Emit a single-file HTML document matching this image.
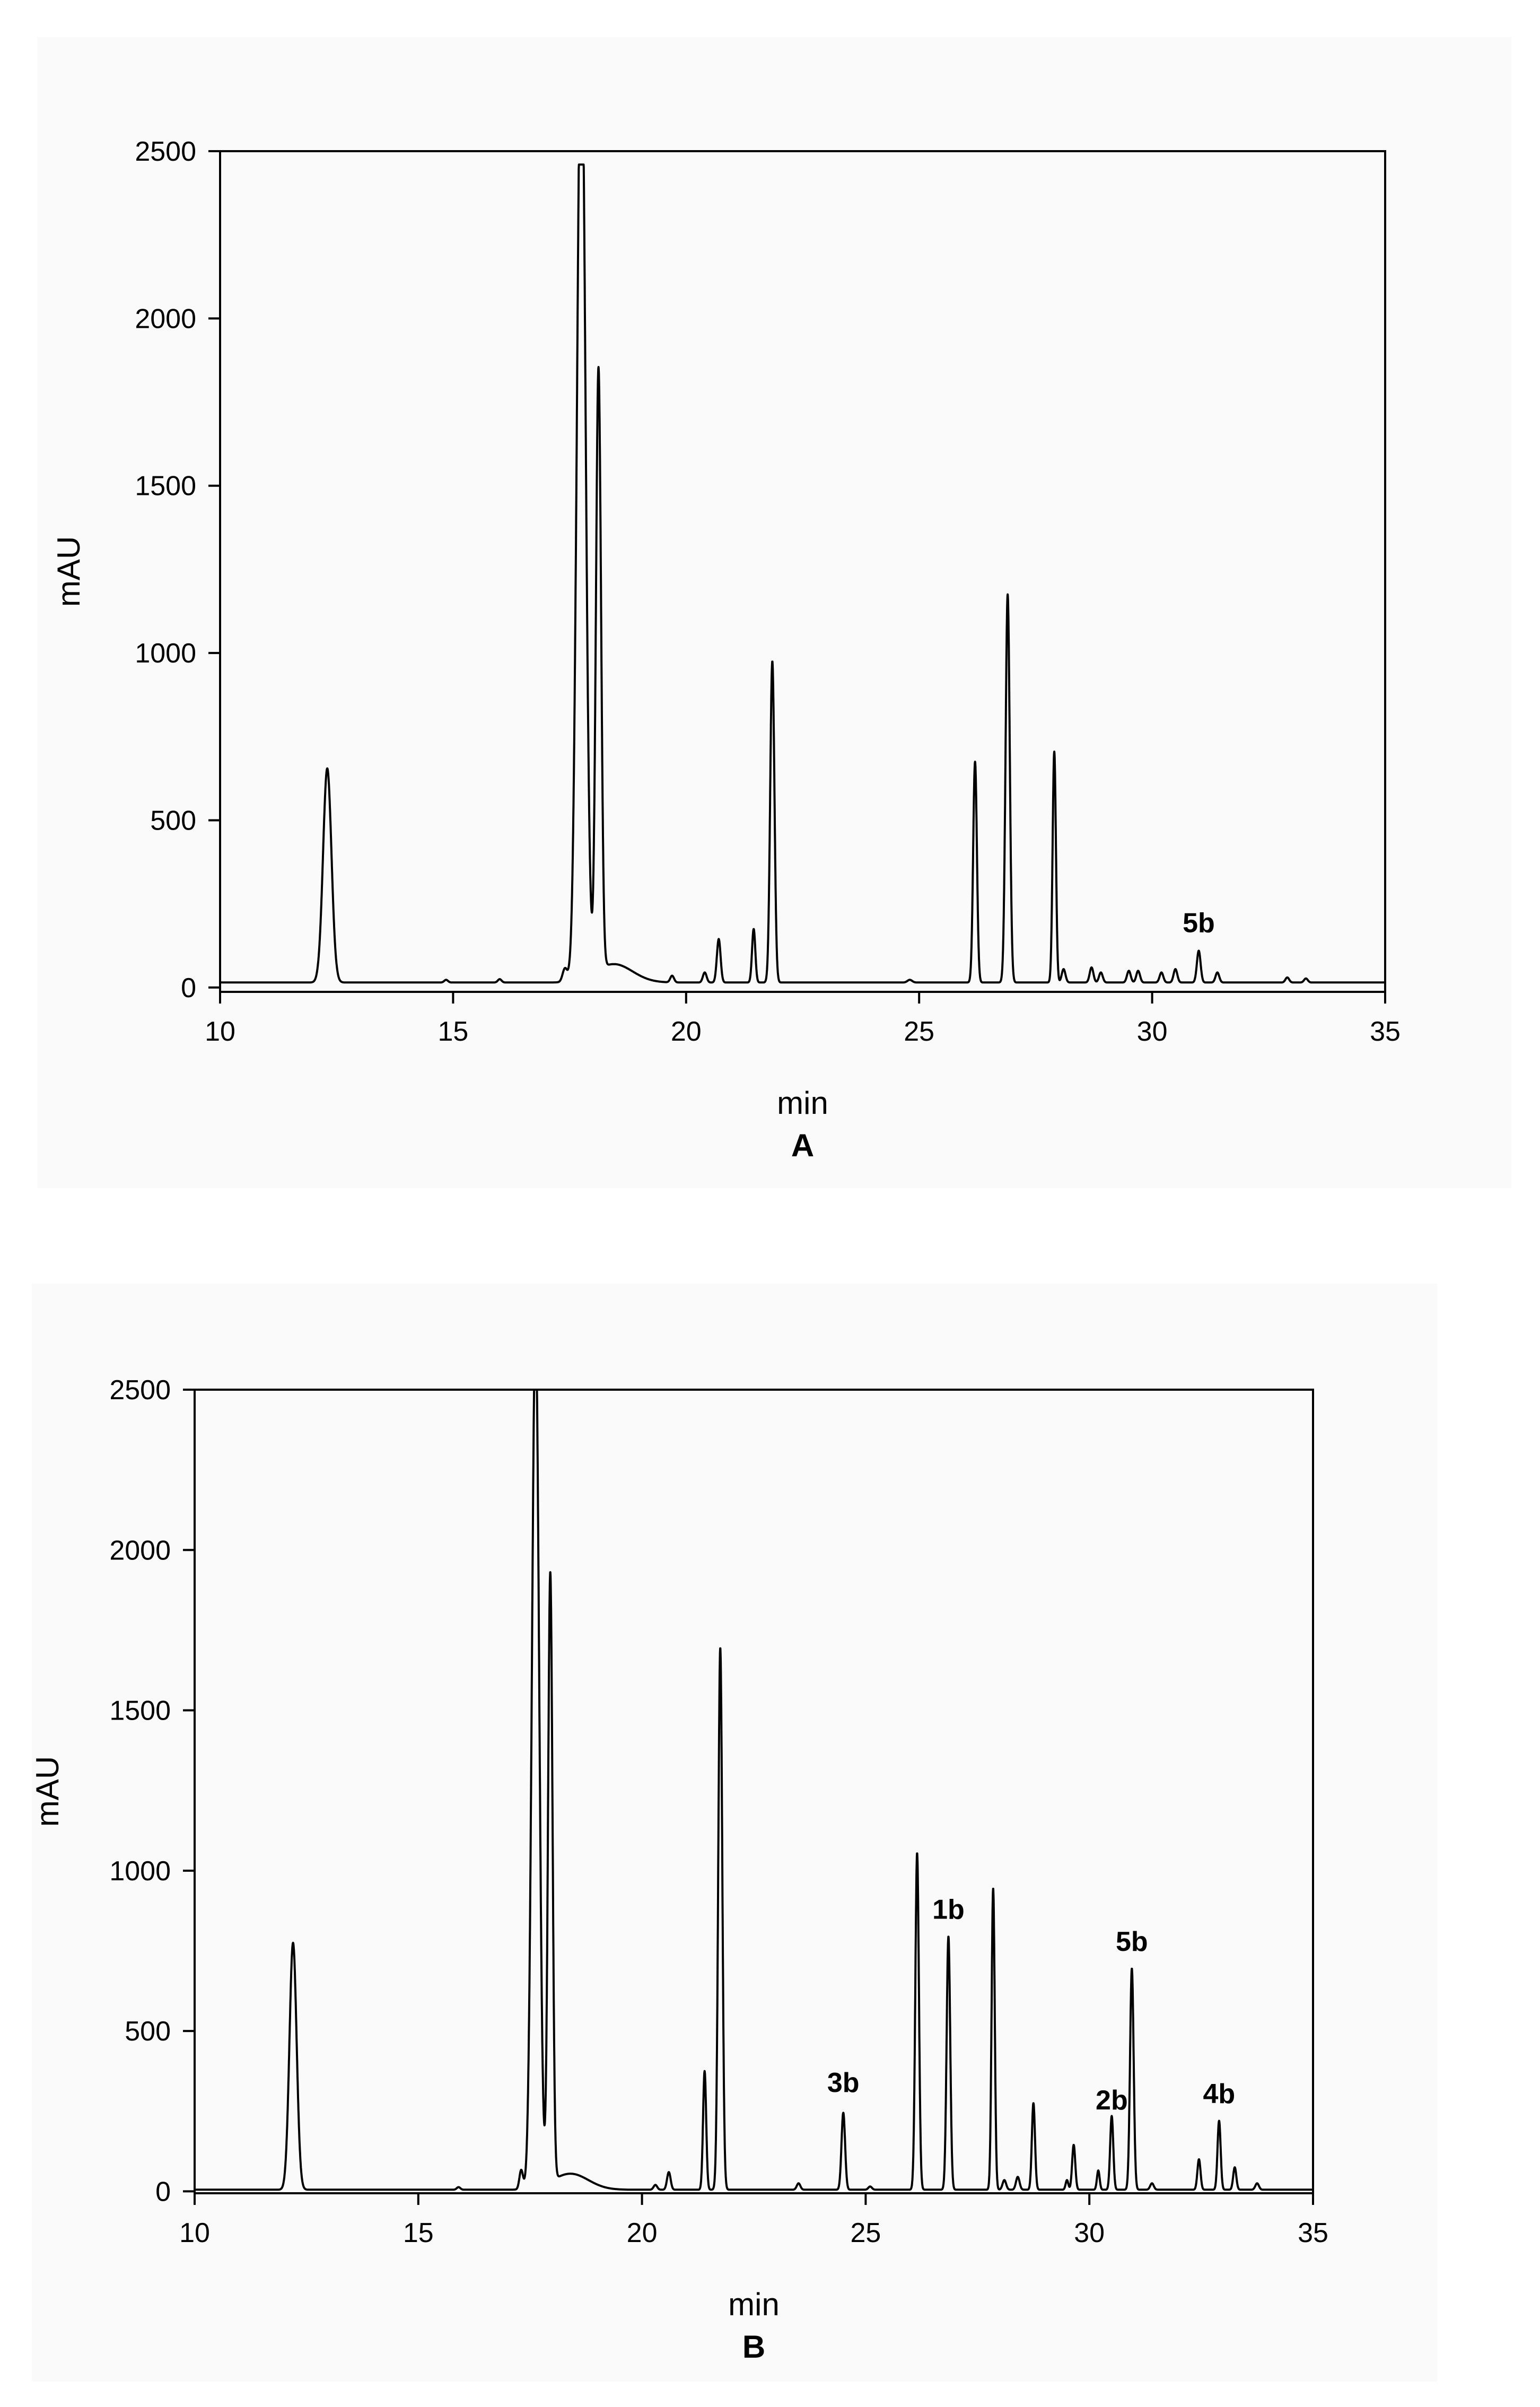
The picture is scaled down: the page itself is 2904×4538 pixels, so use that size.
<!DOCTYPE html>
<html><head><meta charset="utf-8"><style>
html,body{margin:0;padding:0;background:#fff;}
svg{display:block;font-family:"Liberation Sans",Arial,sans-serif;}
</style></head><body>
<svg id="chart" width="2904" height="4538" viewBox="0 0 2904 4538" xmlns="http://www.w3.org/2000/svg">
<rect x="0" y="0" width="2904" height="4538" fill="#fff"/>
<rect x="70" y="70" width="2780" height="2170" fill="#fafafa"/>
<rect x="60" y="2420" width="2650" height="2070" fill="#fafafa"/>
<g id="pa"></g>
<g id="pb"></g>
</svg>
<script>
// Panel A data
const ticksX = [10, 15, 20, 25, 30, 35];
const ticksY = [0, 500, 1000, 1500, 2000, 2500];
const peakTimesA = [12.3, 14.85, 16.0, 17.4, 17.75, 18.12, 18.45, 19.7, 20.4, 20.7, 21.45, 21.85, 24.8, 26.2, 26.9, 27.9, 28.1, 28.7, 28.9, 29.5, 29.7, 30.2, 30.5, 31.0, 31.4, 32.9, 33.3];
const peakHeightsA = [640, 8, 10, 40, 2900, 1800, 55, 20, 30, 130, 160, 960, 8, 660, 1160, 690, 40, 45, 30, 35, 35, 30, 40, 95, 30, 15, 12];
const peakWidthsA = [0.09, 0.04, 0.04, 0.05, 0.09, 0.055, 0.4, 0.04, 0.04, 0.04, 0.035, 0.045, 0.05, 0.04, 0.045, 0.035, 0.04, 0.04, 0.04, 0.04, 0.04, 0.04, 0.04, 0.04, 0.04, 0.04, 0.04];
const baselineA = 15;
const clipA = 2460;
const labelsA = ["5b"];
const labelTimesA = [31.0];
const labelValuesA = [165];
// Panel B data
const peakTimesB = [12.2, 15.9, 17.3, 17.62, 17.95, 18.4, 20.3, 20.6, 21.4, 21.75, 23.5, 24.5, 25.1, 26.15, 26.85, 27.85, 28.1, 28.4, 28.75, 29.5, 29.65, 30.2, 30.5, 30.95, 31.4, 32.45, 32.9, 33.25, 33.75];
const peakHeightsB = [770, 8, 60, 2700, 1900, 50, 15, 55, 370, 1690, 20, 240, 10, 1050, 790, 940, 30, 40, 270, 30, 140, 60, 230, 690, 20, 95, 215, 70, 20];
const peakWidthsB = [0.08, 0.04, 0.04, 0.08, 0.05, 0.4, 0.04, 0.04, 0.035, 0.045, 0.04, 0.04, 0.04, 0.04, 0.04, 0.035, 0.04, 0.04, 0.035, 0.03, 0.035, 0.03, 0.035, 0.04, 0.04, 0.035, 0.035, 0.035, 0.04];
const baselineB = 5;
const clipB = 2500;
const labelsB = ["3b", "1b", "2b", "5b", "4b"];
const labelTimesB = [24.5, 26.85, 30.5, 30.95, 32.9];
const labelValuesB = [310, 850, 255, 750, 275];

const NS = "http://www.w3.org/2000/svg";
function mk(parent, tag, attrs, text) {
  const e = document.createElementNS(NS, tag);
  for (const k in attrs) e.setAttribute(k, attrs[k]);
  if (text !== undefined) e.textContent = text;
  parent.appendChild(e);
  return e;
}

function drawPanel(g, box, times, heights, widths, base, clip, labels, lt, lv, letter) {
  const xmin = 10, xmax = 35, ymin = box.ymin, ymax = 2500;
  const sx = v => box.x0 + (v - xmin) / (xmax - xmin) * (box.x1 - box.x0);
  const sy = v => box.y1 - (v - ymin) / (ymax - ymin) * (box.y1 - box.y0);
  let d = "";
  for (let t = xmin; t <= xmax + 1e-9; t += 0.004) {
    let y = base;
    for (let i = 0; i < times.length; i++) {
      const z = (t - times[i]) / widths[i];
      y += heights[i] * Math.exp(-0.5 * z * z);
    }
    if (y > clip) y = clip;
    d += (d ? "L" : "M") + sx(t).toFixed(1) + "," + sy(y).toFixed(1);
  }
  const tr = mk(g, "path", {d: d, fill: "none", stroke: "#000", "stroke-width": 4, "stroke-linejoin": "round"});
  
  
  const fr = mk(g, "rect", {x: box.x0, y: box.y0, width: box.x1 - box.x0, height: box.y1 - box.y0, fill: "none", stroke: "#000", "stroke-width": 4});
  
  
  ticksX.forEach(v => {
    const x = sx(v);
    const tk = mk(g, "line", {x1: x, x2: x, y1: box.y1, y2: box.y1 + 22, stroke: "#000", "stroke-width": 4});
    
    
    const tl = mk(g, "text", {x: x, y: box.y1 + 92, "font-size": 52, "text-anchor": "middle"}, String(v));
    
    
  });
  ticksY.forEach(v => {
    const y = sy(v);
    const tk = mk(g, "line", {x1: box.x0 - 22, x2: box.x0, y1: y, y2: y, stroke: "#000", "stroke-width": 4});
    
    
    const tl = mk(g, "text", {x: box.x0 - 45, y: y + 18, "font-size": 52, "text-anchor": "end"}, String(v));
    
    
  });
  labels.forEach((s, i) => {
    const t = mk(g, "text", {x: sx(lt[i]), y: sy(lv[i]), "font-size": 52, "font-weight": "bold", "text-anchor": "middle"}, s);
    
    
  });
  const cx = (box.x0 + box.x1) / 2;
  const xt = mk(g, "text", {x: cx, y: box.y1 + 230, "font-size": 60, "text-anchor": "middle"}, "min");
  
  
  const pl = mk(g, "text", {x: cx, y: box.y1 + 310, "font-size": 60, "font-weight": "bold", "text-anchor": "middle"}, letter);
  
  
  const yc = (box.y0 + box.y1) / 2;
  const yt = mk(g, "text", {x: box.tx, y: yc, "font-size": 60, "text-anchor": "middle", transform: "rotate(-90 " + box.tx + " " + yc + ")"}, "mAU");
  
  
}

drawPanel(document.getElementById("pa"), {x0: 415, x1: 2612, y0: 285, y1: 1870, ymin: -13, tx: 150},
  peakTimesA, peakHeightsA, peakWidthsA, baselineA, clipA, labelsA, labelTimesA, labelValuesA, "A");
drawPanel(document.getElementById("pb"), {x0: 367, x1: 2476, y0: 2620, y1: 4135, ymin: -6, tx: 110},
  peakTimesB, peakHeightsB, peakWidthsB, baselineB, clipB, labelsB, labelTimesB, labelValuesB, "B");
</script>
</body></html>
